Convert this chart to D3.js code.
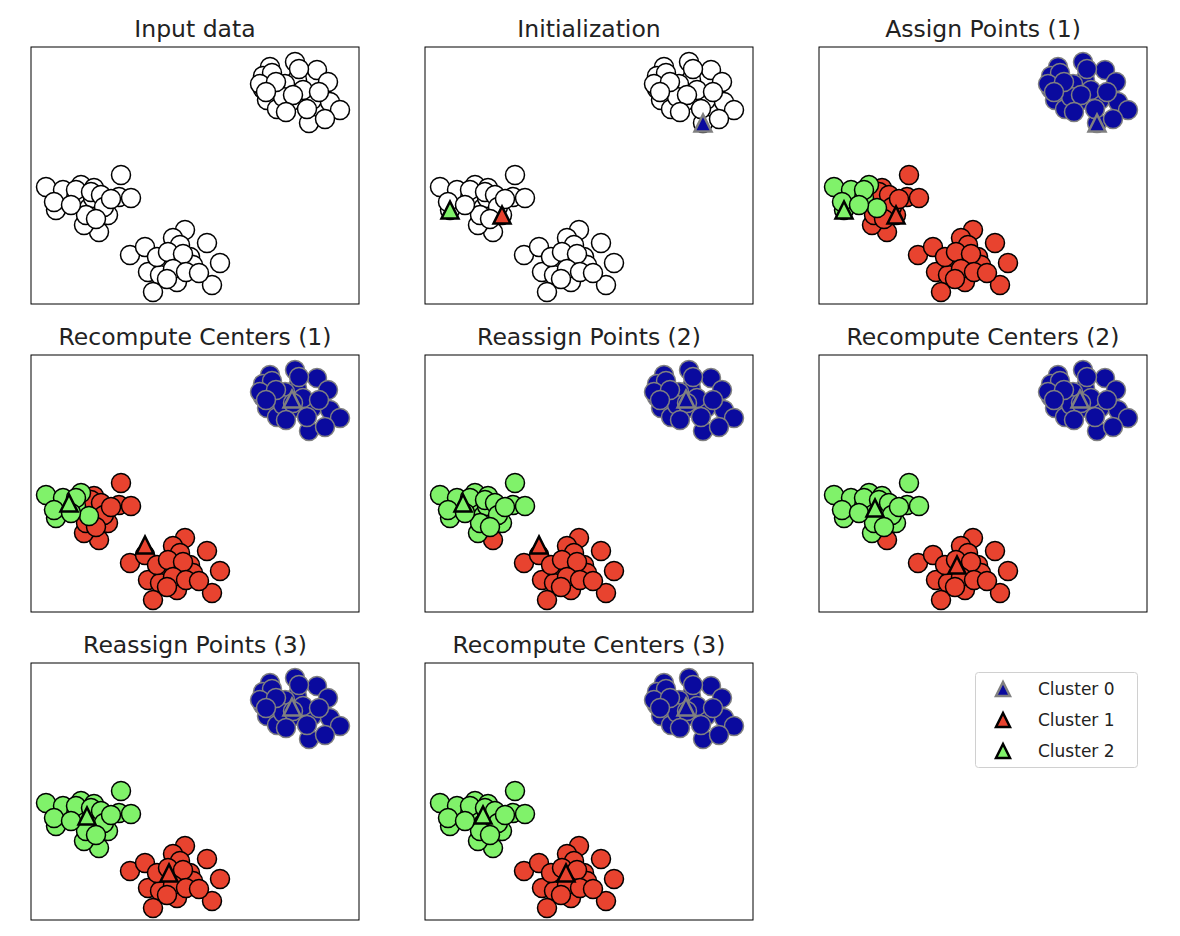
<!DOCTYPE html>
<html>
<head>
<meta charset="utf-8">
<script src="https://cdn.jsdelivr.net/npm/d3@7"></script>
<style>
  body { margin: 0; background: #fff; }
  text { font-family: "DejaVu Sans", sans-serif; }
</style>
</head>
<body>
<div id="chart"></div>
<script>
// blob data (three groups: top right, left, bottom)
var pointX = [26.4, 23.9, 28.6, 23.2, 24.1, 26.6, 25.4, 29.7, 23.2, 24.2, 25.9, 28.1, 29.9, 30.9, 23.6, 24.6, 27.8, 29.4, 25.2, 22.9, 27.2,
  24.5, 26.2, 27.6, 28.8, 26.8, 23.5, 25.5,
  1.5, 3.2, 5.0, 6.3, 9.0, 4.5, 2.5, 5.8, 8.8, 10.0, 7.7, 6.8, 5.3, 2.3, 6.2,
  4.5, 6.0, 7.0, 7.3, 8.0, 5.5, 4.0, 6.5,
  9.9, 11.4, 15.4, 14.2, 14.9, 17.6, 18.9, 15.9, 13.1, 11.7, 12.9, 14.6, 12.2, 18.1, 16.2, 12.6,
  13.7, 15.2, 14.2, 15.5, 16.8, 13.6];
var pointY = [24.2, 23.7, 23.4, 22.8, 23.1, 22.4, 22.0, 22.2, 21.5, 21.2, 20.2, 20.4, 20.2, 19.4, 20.4, 19.5, 18.1, 18.5, 20.7, 22.0, 21.4,
  22.2, 20.9, 19.5, 21.2, 23.5, 21.2, 19.2,
  11.7, 11.4, 11.9, 11.6, 12.9, 10.6, 9.4, 9.6, 10.7, 10.6, 8.9, 7.2, 7.9, 10.2, 10.6,
  11.4, 11.2, 10.9, 9.7, 10.5, 8.9, 9.9, 8.5,
  4.9, 5.7, 7.4, 6.6, 5.9, 6.1, 4.1, 4.7, 4.2, 3.2, 2.9, 2.2, 1.2, 1.9, 3.9, 4.7,
  5.2, 5.0, 3.5, 3.2, 3.1, 2.5];

var labels1 = [0,0,0,0,0,0,0,0,0,0,0,0,0,0,0,0,0,0,0,0,0,
  0,0,0,0,0,0,0,
  2,2,2,1,1,2,2,2,1,1,1,1,1,2,1,
  2,1,1,1,1,1,2,1,
  1,1,1,1,1,1,1,1,1,1,1,1,1,1,1,1,
  1,1,1,1,1,1];
var labels2 = [0,0,0,0,0,0,0,0,0,0,0,0,0,0,0,0,0,0,0,0,0,
  0,0,0,0,0,0,0,
  2,2,2,2,2,2,2,2,2,2,2,1,2,2,2,
  2,2,2,2,2,2,2,2,
  1,1,1,1,1,1,1,1,1,1,1,1,1,1,1,1,
  1,1,1,1,1,1];
var labels3 = [0,0,0,0,0,0,0,0,0,0,0,0,0,0,0,0,0,0,0,0,0,
  0,0,0,0,0,0,0,
  2,2,2,2,2,2,2,2,2,2,2,2,2,2,2,
  2,2,2,2,2,2,2,2,
  1,1,1,1,1,1,1,1,1,1,1,1,1,1,1,1,
  1,1,1,1,1,1];

var centersInit = [[27.8, 18.1], [7.7, 8.9], [2.5, 9.4]];
var centers1 = [[26.1, 21.3], [11.4, 6.7], [3.8, 10.9]];
var centers2 = [[26.1, 21.3], [13.8, 4.7], [5.6, 10.4]];
var centers3 = [[26.1, 21.3], [14.1, 4.7], [5.8, 10.5]];

var titles = ["Input data", "Initialization", "Assign Points (1)",
  "Recompute Centers (1)", "Reassign Points (2)", "Recompute Centers (2)",
  "Reassign Points (3)", "Recompute Centers (3)"];
var panelLabels = [null, null, labels1, labels1, labels2, labels2, labels3, labels3];
var panelCenters = [null, centersInit, centersInit, centers1, centers1, centers2, centers2, centers3];

var legendNames = ["Cluster 0", "Cluster 1", "Cluster 2"];

var fills = ["#0a0a9e", "#e8432f", "#80f26a"];
var edges = ["#808080", "#000", "#000"];

var panelW = 328, panelH = 257;

var svg = d3.select("#chart").append("svg")
  .attr("width", 1180)
  .attr("height", 936);

var x = d3.scaleLinear().domain([0, 32.8]).range([0, panelW]);
var y = d3.scaleLinear().domain([0, 25.7]).range([panelH, 0]);

function trianglePath(h) {
  return "M0," + (-h) + "L" + (-h) + "," + h + "L" + h + "," + h + "Z";
}

titles.forEach(function(title, i) {
  var col = i % 3, row = Math.floor(i / 3);
  var g = svg.append("g")
    .attr("transform", "translate(" + (31 + col * 394) + "," + (47 + row * 308) + ")");

  g.append("text")
    .attr("x", panelW / 2)
    .attr("y", -10)
    .attr("text-anchor", "middle")
    .style("font-size", "23.5px")
    .style("fill", "#222")
    .text(title);

  var labels = panelLabels[i];
  var idx = d3.range(pointX.length);
  if (labels) {
    idx.sort(function(a, b) { return labels[a] - labels[b] || a - b; });
  }

  g.selectAll("circle")
    .data(idx)
    .enter().append("circle")
    .attr("cx", function(d) { return x(pointX[d]); })
    .attr("cy", function(d) { return y(pointY[d]); })
    .attr("r", 9.5)
    .style("fill", function(d) { return labels ? fills[labels[d]] : "#fff"; })
    .style("stroke", function(d) { return labels ? edges[labels[d]] : "#000"; })
    .style("stroke-width", 1.5);

  var centers = panelCenters[i];
  if (centers) {
    g.selectAll("path.center")
      .data(centers)
      .enter().append("path")
      .attr("class", "center")
      .attr("transform", function(d) { return "translate(" + x(d[0]) + "," + y(d[1]) + ")"; })
      .attr("d", trianglePath(8.5))
      .style("fill", function(d, k) { return fills[k]; })
      .style("stroke", function(d, k) { return edges[k]; })
      .style("stroke-width", 2.5)
      .style("stroke-linejoin", "miter");
  }

  g.append("rect")
    .attr("x", 0)
    .attr("y", 0)
    .attr("width", panelW)
    .attr("height", panelH)
    .style("fill", "none")
    .style("stroke", "#000")
    .style("stroke-width", 1);
});

// legend
var legend = svg.append("g").attr("transform", "translate(975,672)");
legend.append("rect")
  .attr("x", 0.5)
  .attr("y", 0.5)
  .attr("width", 162)
  .attr("height", 95)
  .attr("rx", 3)
  .style("fill", "#fff")
  .style("stroke", "#d0d0d0");

legendNames.forEach(function(name, k) {
  var row = legend.append("g").attr("transform", "translate(0," + (17 + k * 31) + ")");
  row.append("path")
    .attr("transform", "translate(28,0)")
    .attr("d", trianglePath(7))
    .style("fill", fills[k])
    .style("stroke", edges[k])
    .style("stroke-width", 2.5);
  row.append("text")
    .attr("x", 63)
    .attr("y", 6)
    .style("font-size", "17px")
    .style("fill", "#222")
    .text(name);
});
</script>
</body>
</html>
